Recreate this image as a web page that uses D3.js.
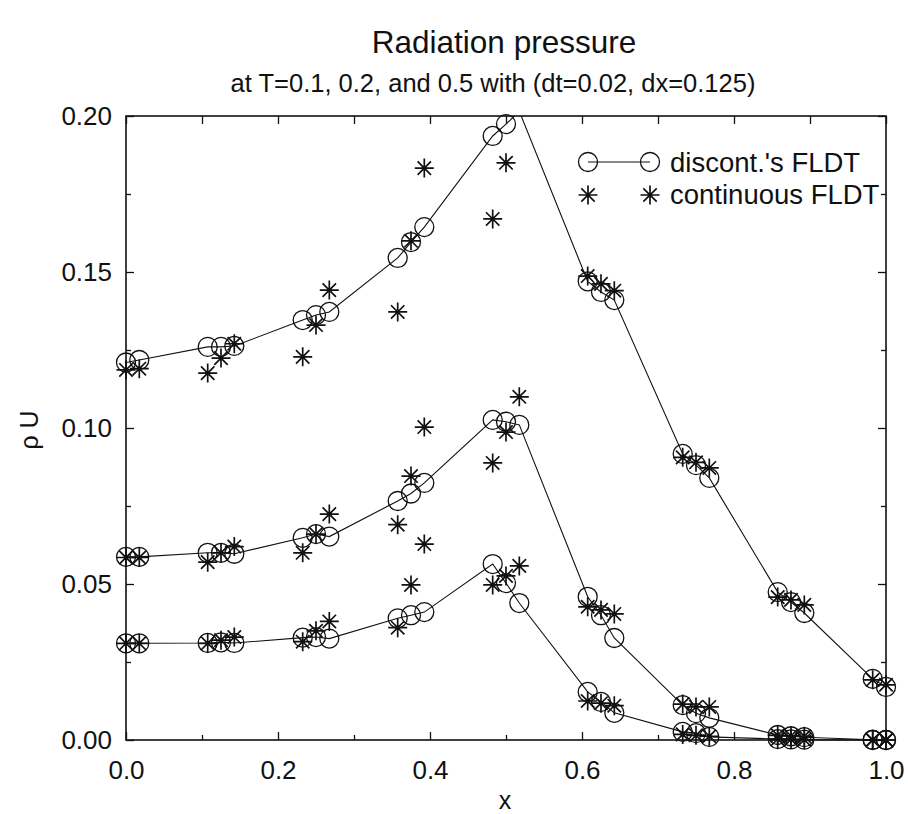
<!DOCTYPE html>
<html>
<head>
<meta charset="utf-8">
<script src="https://cdn.jsdelivr.net/npm/d3@7"></script>
<style>
body { margin: 0; background: #fff; }
text { font-family: "Liberation Sans", Arial, sans-serif; fill: #111; }
</style>
</head>
<body>
<svg id="chart"></svg>
<script>
var width = 908;
var height = 814;

// grid points (cell edges +/- 0.0175 around multiples of dx)
var xs = [0, 0.0175, 0.1075, 0.125, 0.1425, 0.2325, 0.25, 0.2675, 0.3575, 0.375, 0.3925,
	0.4825, 0.5, 0.5175, 0.6075, 0.625, 0.6425, 0.7325, 0.75, 0.7675, 0.8575, 0.875, 0.8925, 0.9825, 1.0];

// T=0.5
var disc_t5 = [0.121, 0.1218, 0.126, 0.126, 0.1263, 0.1346, 0.1362, 0.1372, 0.1545, 0.1596, 0.1644,
	0.1936, 0.1974, 0.2015, 0.147, 0.1436, 0.141, 0.0917, 0.0881, 0.084, 0.0474, 0.0442, 0.0407, 0.0196, 0.017];
var cont_t5 = [0.1186, 0.119, 0.1176, 0.1224, 0.127, 0.1228, 0.133, 0.1442, 0.1372, 0.160, 0.1833,
	0.167, 0.185, 0.203, 0.1487, 0.1462, 0.144, 0.0906, 0.089, 0.0872, 0.0458, 0.0449, 0.0433, 0.0193, 0.0177];

// T=0.2
var disc_t2 = [0.0587, 0.0587, 0.060, 0.060, 0.0597, 0.0648, 0.066, 0.0652, 0.0766, 0.079, 0.0824,
	0.1026, 0.102, 0.101, 0.0459, 0.040, 0.0327, 0.0112, 0.0086, 0.0071, 0.0016, 0.0012, 0.0009, 0.0001, 0.0];
var cont_t2 = [0.0585, 0.0585, 0.057, 0.060, 0.062, 0.060, 0.066, 0.0724, 0.069, 0.0846, 0.1003,
	0.0888, 0.0987, 0.110, 0.0427, 0.0417, 0.0404, 0.0115, 0.0106, 0.0106, 0.0015, 0.0013, 0.0012, 0.0, 0.0];

// T=0.1
var disc_t1 = [0.031, 0.031, 0.0311, 0.0313, 0.0311, 0.0328, 0.033, 0.0325, 0.039, 0.040, 0.041,
	0.0564, 0.0503, 0.0439, 0.0154, 0.0122, 0.0087, 0.0026, 0.0022, 0.001, 0.0003, 0.0002, 0.0001, 0.0, 0.0];
var cont_t1 = [0.031, 0.031, 0.031, 0.032, 0.033, 0.0315, 0.035, 0.038, 0.036, 0.0497, 0.0628,
	0.0497, 0.0526, 0.0558, 0.0125, 0.0118, 0.0110, 0.0018, 0.0015, 0.0012, 0.0003, 0.0002, 0.0001, 0.0, 0.0];

var xMajor = [0, 0.2, 0.4, 0.6, 0.8, 1.0];
var xMinor = [0.1, 0.3, 0.5, 0.7, 0.9];
var yMajor = [0, 0.05, 0.10, 0.15, 0.20];
var yMinor = [0.025, 0.075, 0.125, 0.175];

var legendLabels = ["discont.'s FLDT", "continuous FLDT"];

// plot box (window.top is read only, so no plain "top")
var pLeft = 126, pRight = 886, pTop = 116, pBottom = 740;

var xScale = d3.scaleLinear().domain([0, 1]).range([pLeft, pRight]);
var yScale = d3.scaleLinear().domain([0, 0.2]).range([pBottom, pTop]);

var svg = d3.select("#chart")
	.attr("width", width)
	.attr("height", height)
	.style("background", "#fff");

svg.append("defs").append("clipPath").attr("id", "plotclip")
	.append("rect").attr("x", 0).attr("y", pTop).attr("width", width).attr("height", height - pTop);

// titles
svg.append("text").attr("x", 504).attr("y", 53).attr("text-anchor", "middle")
	.style("font-size", "31.5px").text("Radiation pressure");
svg.append("text").attr("x", 493).attr("y", 92).attr("text-anchor", "middle")
	.style("font-size", "25.5px").text("at T=0.1, 0.2, and 0.5 with (dt=0.02, dx=0.125)");

// axes, ticks pointing inward
function styleAxis(g, size) {
	g.select(".domain").remove();
	g.selectAll("line").attr("stroke", "#111").attr("stroke-width", 1.3);
	g.selectAll("text").style("font-size", size).attr("fill", "#111");
}

svg.append("g").attr("transform", "translate(0," + pBottom + ")")
	.call(d3.axisBottom(xScale).tickValues(xMajor).tickFormat(d3.format(".1f")).tickSizeInner(-8).tickSizeOuter(0).tickPadding(21))
	.call(styleAxis, "26px");
svg.append("g").attr("transform", "translate(0," + pBottom + ")")
	.call(d3.axisBottom(xScale).tickValues(xMinor).tickFormat("").tickSizeInner(-5).tickSizeOuter(0))
	.call(styleAxis, "0px");
svg.append("g").attr("transform", "translate(0," + pTop + ")")
	.call(d3.axisTop(xScale).tickValues(xMajor.concat(xMinor)).tickFormat("").tickSizeInner(-8).tickSizeOuter(0))
	.call(styleAxis, "0px");

svg.append("g").attr("transform", "translate(" + pLeft + ",0)")
	.call(d3.axisLeft(yScale).tickValues(yMajor).tickFormat(d3.format(".2f")).tickSizeInner(-8).tickSizeOuter(0).tickPadding(14))
	.call(styleAxis, "26px");
svg.append("g").attr("transform", "translate(" + pLeft + ",0)")
	.call(d3.axisLeft(yScale).tickValues(yMinor).tickFormat("").tickSizeInner(-5).tickSizeOuter(0))
	.call(styleAxis, "0px");
svg.append("g").attr("transform", "translate(" + pRight + ",0)")
	.call(d3.axisRight(yScale).tickValues(yMajor).tickFormat("").tickSizeInner(-8).tickSizeOuter(0))
	.call(styleAxis, "0px");
svg.append("g").attr("transform", "translate(" + pRight + ",0)")
	.call(d3.axisRight(yScale).tickValues(yMinor).tickFormat("").tickSizeInner(-5).tickSizeOuter(0))
	.call(styleAxis, "0px");

// frame
svg.append("rect").attr("x", pLeft).attr("y", pTop).attr("width", pRight - pLeft).attr("height", pBottom - pTop)
	.attr("fill", "none").attr("stroke", "#111").attr("stroke-width", 1.6);

svg.append("text").attr("x", 505).attr("y", 809).attr("text-anchor", "middle")
	.style("font-size", "25px").text("x");
svg.append("text").attr("transform", "translate(38,430) rotate(-90)").attr("text-anchor", "middle")
	.style("font-size", "25px").text("ρ U");

// markers
var starPath = "M-9.5,0L9.5,0M0,-9.5L0,9.5M-6.7,-6.7L6.7,6.7M-6.7,6.7L6.7,-6.7";

function zip(vals) {
	return xs.map(function (d, i) { return { x: d, y: vals[i] }; });
}

var line = d3.line().x(function (d) { return xScale(d.x); }).y(function (d) { return yScale(d.y); });

var plot = svg.append("g");

[disc_t1, disc_t2, disc_t5].forEach(function (vals) {
	var pts = zip(vals);
	plot.append("path").datum(pts)
		.attr("clip-path", "url(#plotclip)")
		.attr("d", line)
		.attr("fill", "none").attr("stroke", "#111").attr("stroke-width", 1.1);
	plot.selectAll(null).data(pts.filter(function (d) { return d.y <= 0.2; })).enter()
		.append("circle")
		.attr("cx", function (d) { return xScale(d.x); })
		.attr("cy", function (d) { return yScale(d.y); })
		.attr("r", 9.5)
		.attr("fill", "none").attr("stroke", "#111").attr("stroke-width", 1.3);
});

[cont_t1, cont_t2, cont_t5].forEach(function (vals) {
	var pts = zip(vals).filter(function (d) { return d.y <= 0.2; });
	var g = plot.selectAll(null).data(pts).enter().append("g")
		.attr("transform", function (d) { return "translate(" + xScale(d.x) + "," + yScale(d.y) + ")"; });
	g.append("path").attr("d", starPath).attr("stroke", "#111").attr("stroke-width", 1.7).attr("fill", "none");
	g.append("circle").attr("r", 2.2).attr("fill", "#111");
});

// legend
var lg = svg.append("g");
lg.append("line").attr("x1", 588).attr("x2", 650).attr("y1", 162).attr("y2", 162)
	.attr("stroke", "#111").attr("stroke-width", 1.1);
[588, 650].forEach(function (cx) {
	lg.append("circle").attr("cx", cx).attr("cy", 162).attr("r", 9.5)
		.attr("fill", "none").attr("stroke", "#111").attr("stroke-width", 1.3);
	var s = lg.append("g").attr("transform", "translate(" + cx + ",195)");
	s.append("path").attr("d", starPath).attr("stroke", "#111").attr("stroke-width", 1.7);
	s.append("circle").attr("r", 2.2).attr("fill", "#111");
});
lg.selectAll(null).data(legendLabels).enter().append("text")
	.attr("x", 670)
	.attr("y", function (d, i) { return 172 + i * 32; })
	.style("font-size", "27.5px")
	.text(function (d) { return d; });
</script>
</body>
</html>
